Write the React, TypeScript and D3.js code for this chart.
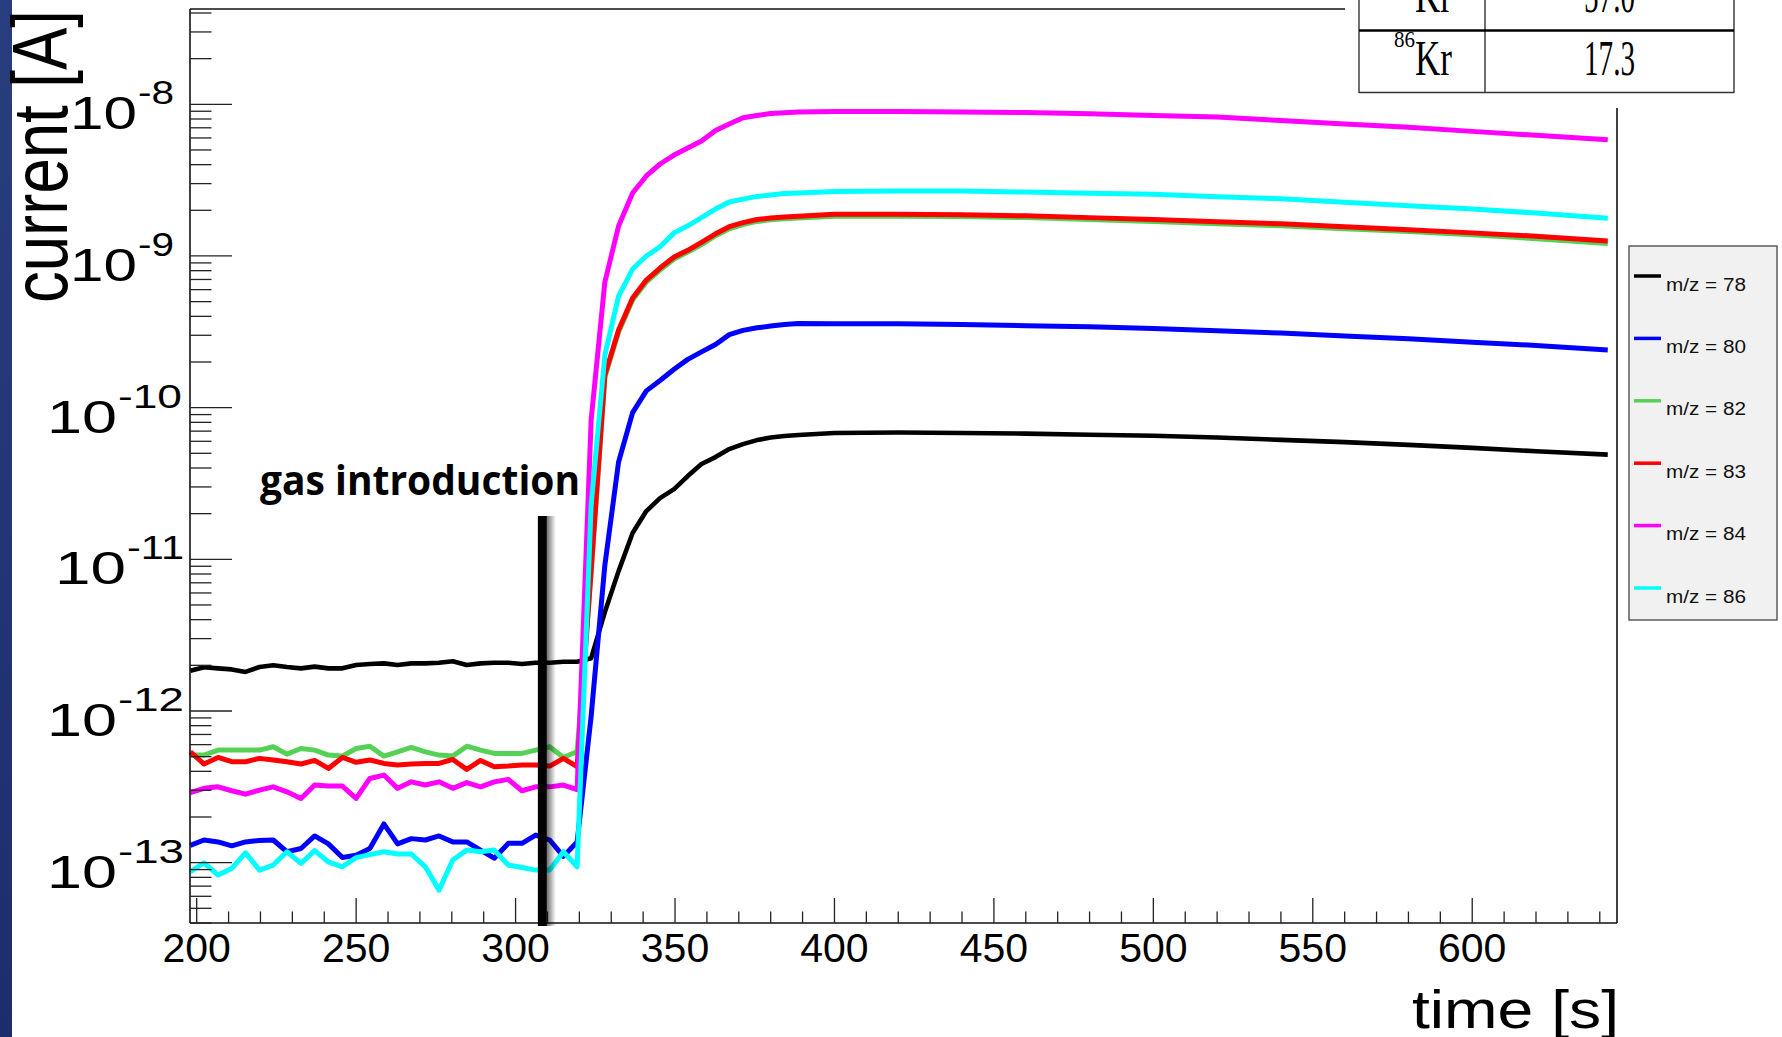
import React from "react";
import * as d3 from "d3";

// ---------------- data ----------------
const times = [
  198, 202.3, 206.7, 211, 215.3, 219.7, 224, 228.3, 232.7, 237, 241.3, 245.7, 250, 254.3, 258.7,
  263, 267.3, 271.7, 276, 280.3, 284.7, 289, 293.3, 297.7, 302, 306.3, 310.7, 315, 319.3,
  323.7, 328, 332.3, 336.7, 341, 345.3, 349.7, 354, 358.3, 362.7, 367, 371.3, 375.7, 380, 384.3, 388.7,
  400, 420, 440, 460, 480, 500, 520, 540, 560, 580, 600, 620, 642.5,
];

const mz78 = [
  1.84e-12, 1.94e-12, 1.91e-12, 1.88e-12, 1.81e-12, 1.95e-12, 2.0e-12, 1.95e-12, 1.91e-12, 1.96e-12,
  1.91e-12, 1.91e-12, 2.01e-12, 2.04e-12, 2.06e-12, 2.01e-12, 2.06e-12, 2.06e-12, 2.08e-12, 2.13e-12,
  2.01e-12, 2.06e-12, 2.08e-12, 2.08e-12, 2.04e-12, 2.08e-12, 2.08e-12, 2.11e-12, 2.11e-12,
  2.23e-12, 4.49e-12, 8.36e-12, 1.49e-11, 2.08e-11, 2.53e-11, 2.9e-11, 3.54e-11, 4.25e-11, 4.72e-11,
  5.33e-11, 5.75e-11, 6.11e-11, 6.35e-11, 6.5e-11, 6.6e-11,
  6.8e-11, 6.86e-11, 6.8e-11, 6.74e-11, 6.63e-11, 6.52e-11, 6.35e-11, 6.13e-11, 5.92e-11, 5.68e-11,
  5.43e-11, 5.16e-11, 4.9e-11,
];

const mz80 = [
  1.3e-13, 1.41e-13, 1.37e-13, 1.29e-13, 1.37e-13, 1.4e-13, 1.41e-13, 1.18e-13, 1.24e-13, 1.5e-13,
  1.33e-13, 1.08e-13, 1.12e-13, 1.24e-13, 1.8e-13, 1.33e-13, 1.44e-13, 1.41e-13, 1.5e-13, 1.37e-13,
  1.37e-13, 1.21e-13, 1.07e-13, 1.34e-13, 1.34e-13, 1.52e-13, 1.41e-13, 1.1e-13, 1.37e-13,
  9.25e-13, 9.16e-12, 4.38e-11, 9.28e-11, 1.29e-10, 1.51e-10, 1.79e-10, 2.08e-10, 2.33e-10, 2.61e-10,
  3.03e-10, 3.23e-10, 3.36e-10, 3.45e-10, 3.53e-10, 3.59e-10,
  3.57e-10, 3.57e-10, 3.53e-10, 3.47e-10, 3.42e-10, 3.33e-10, 3.21e-10, 3.1e-10, 2.97e-10, 2.85e-10,
  2.7e-10, 2.57e-10, 2.4e-10,
];

const mz82 = [
  5.12e-13, 5.12e-13, 5.52e-13, 5.52e-13, 5.52e-13, 5.52e-13, 5.81e-13, 5.19e-13, 5.66e-13, 5.52e-13,
  5.12e-13, 5.04e-13, 5.66e-13, 5.86e-13, 5.04e-13, 5.38e-13, 5.75e-13, 5.38e-13, 5.12e-13, 5.04e-13,
  5.86e-13, 5.52e-13, 5.25e-13, 5.25e-13, 5.25e-13, 5.52e-13, 5.81e-13, 4.94e-13, 5.4e-13,
  8.2e-12, 1.59e-10, 3.15e-10, 5.12e-10, 6.73e-10, 8.08e-10, 9.55e-10, 1.06e-9, 1.19e-9, 1.36e-9,
  1.51e-9, 1.61e-9, 1.69e-9, 1.73e-9, 1.76e-9, 1.78e-9,
  1.83e-9, 1.83e-9, 1.82e-9, 1.79e-9, 1.74e-9, 1.69e-9, 1.63e-9, 1.58e-9, 1.51e-9, 1.45e-9,
  1.38e-9, 1.3e-9, 1.21e-9,
];

const mz83 = [
  5.38e-13, 4.47e-13, 4.94e-13, 4.63e-13, 4.63e-13, 4.87e-13, 4.75e-13, 4.63e-13, 4.47e-13, 4.72e-13,
  4.18e-13, 4.94e-13, 4.59e-13, 4.75e-13, 4.51e-13, 4.4e-13, 4.47e-13, 4.51e-13, 4.51e-13, 4.79e-13,
  4.12e-13, 4.72e-13, 4.29e-13, 4.33e-13, 4.4e-13, 4.4e-13, 4.33e-13, 4.87e-13, 4.29e-13,
  8.49e-12, 1.64e-10, 3.25e-10, 5.28e-10, 6.94e-10, 8.33e-10, 9.84e-10, 1.09e-9, 1.23e-9, 1.4e-9,
  1.56e-9, 1.66e-9, 1.74e-9, 1.78e-9, 1.81e-9, 1.83e-9,
  1.885e-9, 1.885e-9, 1.87e-9, 1.84e-9, 1.79e-9, 1.74e-9, 1.68e-9, 1.63e-9, 1.56e-9, 1.49e-9,
  1.42e-9, 1.35e-9, 1.255e-9,
];

const mz84 = [
  2.89e-13, 3.09e-13, 3.16e-13, 2.98e-13, 2.83e-13, 3.01e-13, 3.16e-13, 2.93e-13, 2.65e-13, 3.25e-13,
  3.2e-13, 3.2e-13, 2.65e-13, 3.59e-13, 3.78e-13, 3.09e-13, 3.41e-13, 3.25e-13, 3.41e-13, 3.09e-13,
  3.37e-13, 3.16e-13, 3.41e-13, 3.54e-13, 2.98e-13, 3.16e-13, 3.16e-13, 3.25e-13, 3.03e-13,
  8.28e-11, 6.73e-10, 1.576e-9, 2.6e-9, 3.37e-9, 4.04e-9, 4.63e-9, 5.15e-9, 5.73e-9, 6.72e-9,
  7.42e-9, 8.15e-9, 8.44e-9, 8.69e-9, 8.81e-9, 8.91e-9,
  8.98e-9, 8.98e-9, 8.9e-9, 8.83e-9, 8.67e-9, 8.45e-9, 8.25e-9, 7.82e-9, 7.42e-9, 7.05e-9,
  6.63e-9, 6.25e-9, 5.83e-9,
];

const mz86 = [
  8.71e-14, 9.98e-14, 8.28e-14, 9.16e-14, 1.16e-13, 8.93e-14, 9.64e-14, 1.18e-13, 9.88e-14, 1.2e-13,
  1.01e-13, 9.39e-14, 1.08e-13, 1.13e-13, 1.18e-13, 1.14e-13, 1.14e-13, 9.39e-14, 6.59e-14, 1.04e-13,
  1.21e-13, 1.18e-13, 1.21e-13, 9.64e-14, 9.3e-14, 8.93e-14, 8.93e-14, 1.18e-13, 9.39e-14,
  2.28e-11, 2.22e-10, 5.44e-10, 8.2e-10, 9.99e-10, 1.15e-9, 1.42e-9, 1.58e-9, 1.79e-9, 2.04e-9,
  2.27e-9, 2.37e-9, 2.47e-9, 2.52e-9, 2.58e-9, 2.6e-9,
  2.66e-9, 2.68e-9, 2.68e-9, 2.64e-9, 2.59e-9, 2.55e-9, 2.46e-9, 2.38e-9, 2.26e-9, 2.14e-9,
  2.04e-9, 1.92e-9, 1.77e-9,
];

const seriesNames = ["m/z = 78", "m/z = 80", "m/z = 82", "m/z = 83", "m/z = 84", "m/z = 86"];
const seriesValues = [mz78, mz80, mz82, mz83, mz84, mz86];
const seriesColors = ["#000000", "#0000ff", "#55d255", "#ff0000", "#ff00ff", "#00ffff"];

const xMajorTicks = [200, 250, 300, 350, 400, 450, 500, 550, 600];
const yDecades = [-8, -9, -10, -11, -12, -13];
const gasTime = 308.4;
const gasLabel = "gas introduction";

const tableIsotopes = ["84", "86"];
const tableElement = ["Kr", "Kr"];
const tableAbundance = ["57.0", "17.3"];

// ---------------- layout ----------------
const W = 1782;
const H = 1037;
const yLabelX = [70, 70, 47, 55, 47, 47];
const yLabelW = [67, 67, 70, 71, 70, 70];
const ySupW = [36, 36, 64, 57, 66, 66];
const FONT = "'Liberation Sans', Arial, sans-serif";

export default function App() {
  const x = d3.scaleLinear().domain([197.9, 645.4]).range([190, 1617]);
  const y = d3.scaleLog().domain([4e-14, 4.25e-8]).range([923, 9]);

  const line = d3
    .line<number>()
    .x((_, i) => x(times[i]))
    .y((v) => y(v));

  // y ticks
  const yTicks: { v: number; major: boolean }[] = [];
  for (let d = -14; d <= -8; d++) {
    for (let m = 1; m <= 9; m++) {
      const v = m * Math.pow(10, d);
      if (v >= 4e-14 * 0.999 && v <= 4.25e-8) yTicks.push({ v, major: m === 1 });
    }
  }
  const xTicks: { t: number; major: boolean }[] = [];
  for (let t = 200; t <= 640; t += 10) xTicks.push({ t, major: t % 50 === 0 });

  const gx = x(gasTime);
  const legendY0 = 276;
  const legendDy = 62.4;

  return (
    <div style={{ position: "fixed", left: 0, top: 0 }}>
      <svg width={W} height={H} viewBox={`0 0 ${W} ${H}`} style={{ display: "block", background: "#fff" }}>
        <defs>
          <linearGradient id="strip" x1="0" y1="0" x2="0" y2="1">
            <stop offset="0" stopColor="#293e7e" />
            <stop offset="1" stopColor="#1c2e6a" />
          </linearGradient>
          <linearGradient id="shadow" x1="0" y1="0" x2="1" y2="0">
            <stop offset="0" stopColor="#000" stopOpacity="0.55" />
            <stop offset="1" stopColor="#000" stopOpacity="0" />
          </linearGradient>
        </defs>
        <rect x={0} y={0} width={W} height={H} fill="#fff" />
        <rect x={0} y={0} width={12} height={H} fill="url(#strip)" />

        {/* series */}
        <g fill="none" strokeLinejoin="round">
          {seriesValues.map((vals, i) => (
            <path
              key={seriesNames[i]}
              d={line(vals) || ""}
              stroke={seriesColors[i]}
              strokeWidth={i === 0 ? 4.6 : 5}
            />
          ))}
        </g>

        {/* frame */}
        <g stroke="#111" strokeWidth={1.6} fill="none">
          <line x1={190} y1={9} x2={1345} y2={9} />
          <line x1={190} y1={9} x2={190} y2={923} />
          <line x1={190} y1={923} x2={1617} y2={923} />
          <line x1={1617} y1={108} x2={1617} y2={923} />
        </g>

        {/* y ticks */}
        <g stroke="#222" strokeWidth={1.3}>
          {yTicks.map((t, i) => (
            <line key={i} x1={190} x2={190 + (t.major ? 42 : 21.5)} y1={y(t.v)} y2={y(t.v)} />
          ))}
        </g>
        {/* x ticks */}
        <g stroke="#222" strokeWidth={1.3}>
          {xTicks.map((t, i) => (
            <line key={i} x1={x(t.t)} x2={x(t.t)} y1={923} y2={923 - (t.major ? 25 : 11.5)} />
          ))}
        </g>

        {/* x tick labels */}
        <g fontFamily={FONT} fontSize={41} textAnchor="middle" fill="#000">
          {xMajorTicks.map((t) => (
            <text key={t} x={x(t)} y={962}>
              {t}
            </text>
          ))}
        </g>

        {/* y tick labels */}
        <g fontFamily={FONT} fill="#000">
          {yDecades.map((e, i) => {
            const ty = y(Math.pow(10, e));
            return (
              <g key={e}>
                <text x={yLabelX[i]} y={ty + 25} fontSize={47} textLength={yLabelW[i]} lengthAdjust="spacingAndGlyphs">
                  10
                </text>
                <text
                  x={yLabelX[i] + yLabelW[i] + 1}
                  y={ty}
                  fontSize={33}
                  textLength={ySupW[i]}
                  lengthAdjust="spacingAndGlyphs"
                >
                  {"-" + String(-e)}
                </text>
              </g>
            );
          })}
        </g>

        {/* axis titles */}
        <text
          transform="translate(67,303) rotate(-90)"
          fontFamily={FONT}
          fontSize={78}
          textLength={293}
          lengthAdjust="spacingAndGlyphs"
          fill="#000"
        >
          current [A]
        </text>
        <text x={1412} y={1028} fontFamily={FONT} fontSize={53} textLength={207} lengthAdjust="spacingAndGlyphs" fill="#000">
          time [s]
        </text>

        {/* gas introduction marker */}
        <rect x={gx + 4.5} y={516} width={9} height={410} fill="url(#shadow)" />
        <rect x={gx - 4.5} y={516} width={9} height={410} fill="#000" />
        <text
          x={260}
          y={495}
          fontFamily="'Open Sans', 'Noto Sans', sans-serif"
          fontWeight={700}
          fontSize={42}
          textLength={320}
          lengthAdjust="spacingAndGlyphs"
          fill="#000"
        >
          {gasLabel}
        </text>

        {/* legend */}
        <rect x={1629} y={246} width={148} height={374} fill="#f1f1f1" stroke="#444" strokeWidth={1.3} />
        {seriesNames.map((n, i) => {
          const ly = legendY0 + i * legendDy;
          return (
            <g key={n}>
              <line x1={1634} x2={1661} y1={ly} y2={ly} stroke={seriesColors[i]} strokeWidth={3.5} />
              <text
                x={1666}
                y={ly + 14.5}
                fontFamily={FONT}
                fontSize={17.5}
                textLength={80}
                lengthAdjust="spacingAndGlyphs"
                fill="#111"
              >
                {n}
              </text>
            </g>
          );
        })}

        {/* table */}
        <rect x={1345} y={0} width={395} height={106} fill="#fff" />
        <g stroke="#333" strokeWidth={1.4}>
          <line x1={1359} y1={0} x2={1359} y2={93} />
          <line x1={1485} y1={0} x2={1485} y2={93} />
          <line x1={1734} y1={0} x2={1734} y2={93} />
          <line x1={1359} y1={92.5} x2={1734} y2={92.5} />
        </g>
        <line x1={1359} y1={30.5} x2={1734} y2={30.5} stroke="#000" strokeWidth={2.5} />
        <g fontFamily="'Liberation Serif', 'DejaVu Serif', serif" fill="#000">
          {tableAbundance.map((v, i) => {
            const base = i === 0 ? 12 : 75;
            return (
              <g key={i}>
                <text x={1394} y={base - 28} fontSize={23} textLength={21} lengthAdjust="spacingAndGlyphs">
                  {tableIsotopes[i]}
                </text>
                <text x={1415} y={base} fontSize={50} textLength={37} lengthAdjust="spacingAndGlyphs">
                  {tableElement[i]}
                </text>
                <text x={1584} y={base} fontSize={50} textLength={51} lengthAdjust="spacingAndGlyphs">
                  {v}
                </text>
              </g>
            );
          })}
        </g>
      </svg>
    </div>
  );
}
